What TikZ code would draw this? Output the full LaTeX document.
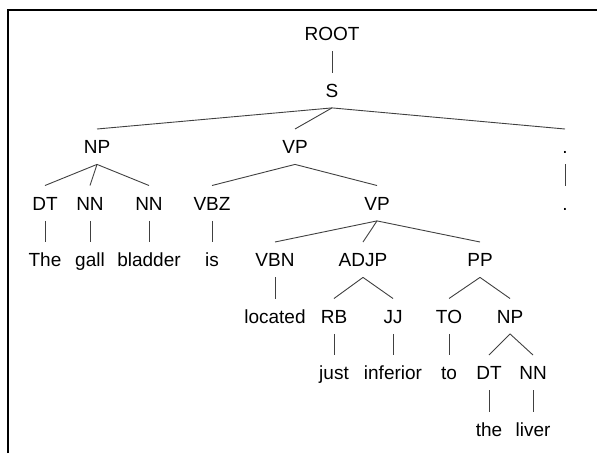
\documentclass[tikz,border=0pt]{standalone}
\usepackage{fontspec}
\setmainfont{Liberation Sans}
\usepackage{tikz}
\usetikzlibrary{calc}

\begin{document}
\begin{tikzpicture}[-, x=1pt, y=-1pt, tag/.style={font=\fontsize{19}{22}\selectfont, text height=18.5pt, text depth=4.5pt, inner xsep=0pt, inner ysep=6pt}, branch/.style={draw=black!75, line width=0.9pt}]
\useasboundingbox (0,0) rectangle (597,453);
\draw[line width=2pt] (8,453) -- (8,10) -- (597,10);
% rows
\node[tag] (root) at (332,33.7) {ROOT};
\node[tag] (s) at (332,90.2) {S};
\node[tag] (np1) at (97,146.7) {NP};
\node[tag] (vp1) at (295,146.7) {VP};
\node[tag] (p1) at (565,146.7) {.};
\node[tag] (dt1) at (45,203.2) {DT};
\node[tag] (nn1) at (90,203.2) {NN};
\node[tag] (nn2) at (149,203.2) {NN};
\node[tag] (vbz) at (212,203.2) {VBZ};
\node[tag] (vp2) at (377,203.2) {VP};
\node[tag] (p2) at (565,203.2) {.};
\node[tag] (w1) at (45,259.7) {The};
\node[tag] (w2) at (90,259.7) {gall};
\node[tag] (w3) at (149,259.7) {bladder};
\node[tag] (w4) at (212,259.7) {is};
\node[tag] (vbn) at (275,259.7) {VBN};
\node[tag] (adjp) at (363,259.7) {ADJP};
\node[tag] (pp) at (480,259.7) {PP};
\node[tag] (w5) at (275,316.2) {located};
\node[tag] (rb) at (334,316.2) {RB};
\node[tag] (jj) at (393,316.2) {JJ};
\node[tag] (to) at (449,316.2) {TO};
\node[tag] (np2) at (510,316.2) {NP};
\node[tag] (w6) at (334,372.7) {just};
\node[tag] (w7) at (393,372.7) {inferior};
\node[tag] (w8) at (449,372.7) {to};
\node[tag] (dt2) at (489,372.7) {DT};
\node[tag] (nn3) at (533,372.7) {NN};
\node[tag] (w9) at (489,429.2) {the};
\node[tag] (w10) at (533,429.2) {liver};
\path[branch]
(root.south) edge (s.north)
(s.south) edge (np1.north)
(s.south) edge (vp1.north)
(s.south) edge (p1.north)
(np1.south) edge (dt1.north)
(np1.south) edge (nn1.north)
(np1.south) edge (nn2.north)
(vp1.south) edge (vbz.north)
(vp1.south) edge (vp2.north)
(p1.south) edge (p2.north)
(dt1.south) edge (w1.north)
(nn1.south) edge (w2.north)
(nn2.south) edge (w3.north)
(vbz.south) edge (w4.north)
(vp2.south) edge (vbn.north)
(vp2.south) edge (adjp.north)
(vp2.south) edge (pp.north)
(vbn.south) edge (w5.north)
(adjp.south) edge (rb.north)
(adjp.south) edge (jj.north)
(pp.south) edge (to.north)
(pp.south) edge (np2.north)
(rb.south) edge (w6.north)
(jj.south) edge (w7.north)
(to.south) edge (w8.north)
(np2.south) edge (dt2.north)
(np2.south) edge (nn3.north)
(dt2.south) edge (w9.north)
(nn3.south) edge (w10.north);
\end{tikzpicture}
\end{document}
